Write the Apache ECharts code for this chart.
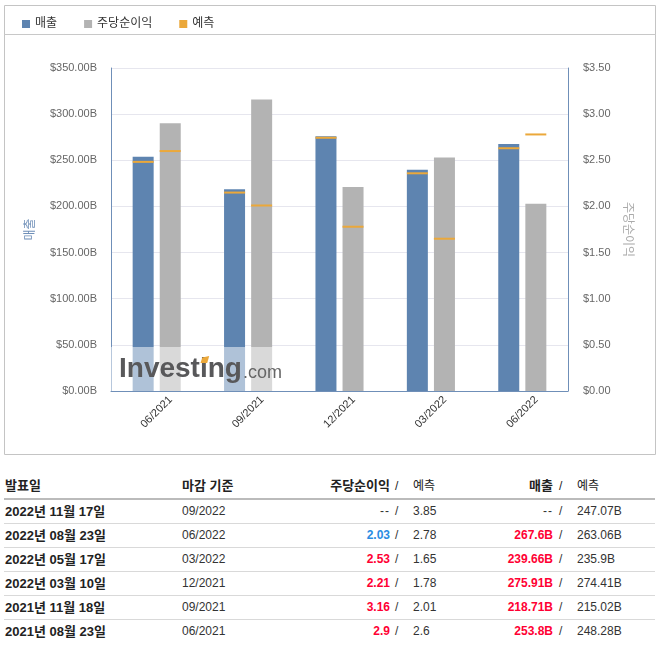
<!DOCTYPE html>
<html>
<head>
<meta charset="utf-8">
<script src="https://cdn.jsdelivr.net/npm/echarts@6/dist/echarts.min.js"></script>
<style>
  body { margin: 0; background: #fff; font-family: "Liberation Sans", "Noto Sans CJK KR", sans-serif; }
  #chart { position: absolute; left: 0; top: 0; width: 662px; height: 460px; }
  #table { position: absolute; left: 4px; top: 474px; width: 651px; }
  .row { position: relative; height: 23px; line-height: 23px; border-bottom: 1px solid #d9d9d9; font-size: 12px; color: #333; }
  .row:last-child { border-bottom: none; }
  .row span { position: absolute; top: 0; white-space: nowrap; }
  .head { height: 24px; line-height: 24px; border-bottom: 2px solid #bbb; font-size: 13px; color: #222; }
  .b { font-weight: bold; }
  .date { left: 1px; font-size: 13px; font-weight: bold; color: #222; }
  .period { left: 178px; }
  .r { text-align: right; }
  .epsA { left: 290px; width: 96px; }
  .sl1 { left: 391px; }
  .epsF { left: 409px; }
  .revA { left: 440px; width: 109px; }
  .sl2 { left: 555px; }
  .revF { left: 573px; }
  .na { color: #333; letter-spacing: 1px; }
</style>
</head>
<body>
<div id="chart"></div>
<div id="table"></div>
<script>
// quarters shown in the chart, oldest first
const categories = ['06/2021', '09/2021', '12/2021', '03/2022', '06/2022'];
const revenue = [253.8, 218.71, 275.91, 239.66, 267.6];
const revenueForecast = [248.28, 215.02, 274.41, 235.9, 263.06];
const eps = [2.9, 3.16, 2.21, 2.53, 2.03];
const epsForecast = [2.6, 2.01, 1.78, 1.65, 2.78];
const releaseDates = ['2021년 08월 23일', '2021년 11월 18일', '2022년 03월 10일', '2022년 05월 17일', '2022년 08월 23일'];

// upcoming release (no actuals yet)
const nextRelease = '2022년 11월 17일';
const nextPeriod = '09/2022';
const nextEpsForecast = 3.85;
const nextRevenueForecast = 247.07;

const BLUE = '#5e84b0';
const GRAY = '#b3b3b3';
const ORANGE = '#eba83a';
const AXIS = '#6f8fb8';

// place the orange dot of the watermark over the second "i"
const markFont = 'bold 28px "Liberation Sans"';
const ctx = document.createElement('canvas').getContext('2d');
ctx.font = markFont;
const markX = 119, markBase = 379;
const iLeft = markX + ctx.measureText('Invest').width;
const iWidth = ctx.measureText('i').width;

const chart = echarts.init(document.getElementById('chart'));

chart.setOption({
  animation: false,
  textStyle: { fontFamily: '"Liberation Sans", "Noto Sans CJK KR", sans-serif' },
  legend: {
    left: 17, top: 13,
    icon: 'rect', itemWidth: 8, itemHeight: 8, itemGap: 27,
    selectedMode: false,
    textStyle: { fontSize: 12, color: '#333' },
    data: ['매출', '주당순이익', '예측']
  },
  grid: { left: 111, right: 94, top: 68, bottom: 69, outerBoundsMode: 'none' },
  xAxis: {
    type: 'category',
    data: categories,
    axisLine: { lineStyle: { color: AXIS } },
    axisTick: { length: 5, lineStyle: { color: AXIS } },
    axisLabel: { rotate: 45, align: 'center', verticalAlign: 'middle', margin: 21, color: '#333', fontSize: 11 }
  },
  yAxis: [
    {
      type: 'value', min: 0, max: 350, interval: 50,
      name: '매출', nameLocation: 'middle', nameGap: 74,
      nameTextStyle: { color: AXIS, fontSize: 12 },
      axisLine: { show: true, lineStyle: { color: AXIS } },
      axisTick: { show: false },
      splitLine: { lineStyle: { color: '#e6e6ee' } },
      axisLabel: { color: '#666', fontSize: 11, margin: 14, formatter: v => '$' + v.toFixed(2) + 'B' }
    },
    {
      type: 'value', min: 0, max: 3.5, interval: 0.5, position: 'right',
      name: '주당순이익', nameLocation: 'middle', nameRotate: -90, nameGap: 46,
      nameTextStyle: { color: '#aaa', fontSize: 12 },
      axisLine: { show: true, lineStyle: { color: AXIS } },
      axisTick: { show: false },
      splitLine: { show: false },
      axisLabel: { color: '#666', fontSize: 11, margin: 15, formatter: v => '$' + v.toFixed(2) }
    }
  ],
  series: [
    { name: '매출', type: 'bar', data: revenue, barWidth: 21, barGap: '29%', itemStyle: { color: BLUE } },
    { name: '주당순이익', type: 'bar', yAxisIndex: 1, data: eps, barWidth: 21, barGap: '29%', itemStyle: { color: GRAY } },
    { name: '예측', type: 'scatter', data: revenueForecast, symbol: 'rect', symbolSize: [21, 2], symbolOffset: [-13.5, 0], itemStyle: { color: ORANGE, opacity: 1 }, z: 5 },
    { name: '예측', type: 'scatter', yAxisIndex: 1, data: epsForecast, symbol: 'rect', symbolSize: [21, 2], symbolOffset: [13.5, 0], itemStyle: { color: ORANGE, opacity: 1 }, z: 5 }
  ],
  graphic: [
    { type: 'rect', shape: { x: 4.5, y: 5.5, width: 651, height: 449 }, style: { fill: 'none', stroke: '#c4c4c4', lineWidth: 1 }, silent: true },
    { type: 'line', shape: { x1: 4, y1: 34.5, x2: 656, y2: 34.5 }, style: { stroke: '#c8c8c8', lineWidth: 1 }, silent: true },
    // watermark
    { type: 'rect', shape: { x: 111, y: 347, width: 171, height: 44 }, style: { fill: 'rgba(255,255,255,0.5)' }, z: 10, silent: true },
    { type: 'text', x: markX, y: markBase - 10, z: 11, silent: true,
      style: { text: 'Investing', font: markFont, fill: '#58585a', verticalAlign: 'middle' } },
    { type: 'text', x: markX + ctx.measureText('Investing').width + 1, y: markBase - 6, z: 11, silent: true,
      style: { text: '.com', font: '18px "Liberation Sans"', fill: '#666', verticalAlign: 'middle' } },
    { type: 'polygon', z: 12, silent: true,
      shape: { points: [
        [iLeft + 0.5, markBase - 16], [iLeft + iWidth - 0.5, markBase - 16],
        [iLeft + iWidth + 1.5, markBase - 23], [iLeft + 2.5, markBase - 21.5]
      ] },
      style: { fill: ORANGE } }
  ]
});

// table below the chart, newest first
const rows = [{ date: nextRelease, period: nextPeriod, epsA: null, epsF: nextEpsForecast, revA: null, revF: nextRevenueForecast }];
for (let i = categories.length - 1; i >= 0; i--) {
  rows.push({ date: releaseDates[i], period: categories[i], epsA: eps[i], epsF: epsForecast[i], revA: revenue[i], revF: revenueForecast[i] });
}

function actualCell(a, f, suffix) {
  if (a === null) return '<span class="na" style="position:static">--</span>';
  const color = a >= f ? '#ff0033' : '#2a8ce2';
  return '<b style="color:' + color + '">' + a + suffix + '</b>';
}

let html = '<div class="row head">' +
  '<span class="b" style="left:1px">발표일</span>' +
  '<span class="b period">마감 기준</span>' +
  '<span class="r epsA b">주당순이익</span><span class="sl1" style="font-size:12px">/</span><span class="epsF" style="font-size:12px">예측</span>' +
  '<span class="r revA b">매출</span><span class="sl2" style="font-size:12px">/</span><span class="revF" style="font-size:12px">예측</span>' +
  '</div>';
rows.forEach(r => {
  html += '<div class="row">' +
    '<span class="date">' + r.date + '</span>' +
    '<span class="period">' + r.period + '</span>' +
    '<span class="r epsA">' + actualCell(r.epsA, r.epsF, '') + '</span>' +
    '<span class="sl1">/</span>' +
    '<span class="epsF">' + r.epsF + '</span>' +
    '<span class="r revA">' + actualCell(r.revA, r.revF, 'B') + '</span>' +
    '<span class="sl2">/</span>' +
    '<span class="revF">' + r.revF + 'B</span>' +
    '</div>';
});
document.getElementById('table').innerHTML = html;
</script>
</body>
</html>
